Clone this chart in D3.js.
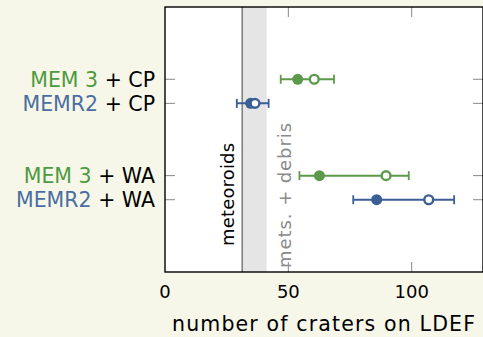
<!DOCTYPE html>
<html>
<head>
<meta charset="utf-8">
<script src="https://cdn.jsdelivr.net/npm/d3@7"></script>
<style>
  html, body { margin: 0; padding: 0; background: #f7f7e9; }
  svg { display: block; }
  text { font-family: "DejaVu Sans", sans-serif; }
</style>
</head>
<body>
<svg id="chart" width="483" height="337"></svg>
<script>
// Crater counts on LDEF for two meteoroid models and two surfaces
const models   = ["MEM 3", "MEMR2", "MEM 3", "MEMR2"];
const surfaces = ["CP", "CP", "WA", "WA"];
const rows     = [3, 4, 7, 8];              // vertical slot of each entry
const filled   = [53.8, 34.7, 62.6, 85.8];  // filled marker
const hollow   = [60.5, 36.5, 89.6, 106.9]; // open marker
const errLow   = [46.9, 29.1, 54.5, 76.3];
const errHigh  = [68.5, 42.0, 98.8, 117.2];
const xTicks   = [0, 50, 100];
const meteoroidsOnly = 31.3;
const metsPlusDebris = 41.2;

const colorOf = m => m === "MEM 3" ? "#5b994b" : "#3b5e96";
const textColorOf = m => m === "MEM 3" ? "#4f9a40" : "#4a6ea2";

const svg = d3.select("#chart");
const L = 165, R = 483, T = 7, B = 272;
const x = d3.scaleLinear().domain([0, 128.9]).range([L, R]);
const y = d3.scaleLinear().domain([0, 11]).range([T, B]);

// plot area
svg.append("rect").attr("x", L).attr("y", T).attr("width", R - L).attr("height", B - T)
  .attr("fill", "#ffffff");

// band between meteoroid-only and meteoroid+debris levels
svg.append("rect")
  .attr("x", x(meteoroidsOnly)).attr("y", T)
  .attr("width", x(metsPlusDebris) - x(meteoroidsOnly)).attr("height", B - T)
  .attr("fill", "#e5e5e5");
svg.append("line")
  .attr("x1", x(meteoroidsOnly)).attr("x2", x(meteoroidsOnly))
  .attr("y1", T).attr("y2", B)
  .attr("stroke", "#808080").attr("stroke-width", 1.6);

svg.append("text")
  .attr("transform", `translate(${x(meteoroidsOnly) - 8},${y(7.78)}) rotate(-90)`)
  .attr("text-anchor", "middle")
  .attr("font-size", 18)
  .attr("textLength", 103)
  .attr("lengthAdjust", "spacing")
  .attr("fill", "#000")
  .text("meteoroids");
svg.append("text")
  .attr("transform", `translate(${x(metsPlusDebris) + 24},${y(7.82)}) rotate(-90)`)
  .attr("text-anchor", "middle")
  .attr("font-size", 18)
  .attr("textLength", 145)
  .attr("lengthAdjust", "spacing")
  .attr("fill", "#8a8a8a")
  .text("mets. + debris");

// axes ticks (inward, on all four sides)
const tickLen = 10;
const axisG = svg.append("g").attr("stroke", "#888").attr("stroke-width", 1);
xTicks.filter(v => v > 0).forEach(v => {
  axisG.append("line").attr("x1", x(v)).attr("x2", x(v)).attr("y1", B).attr("y2", B - tickLen);
  axisG.append("line").attr("x1", x(v)).attr("x2", x(v)).attr("y1", T).attr("y2", T + tickLen);
});
rows.forEach(r => {
  axisG.append("line").attr("x1", L).attr("x2", L + tickLen).attr("y1", y(r)).attr("y2", y(r));
  axisG.append("line").attr("x1", R).attr("x2", R - tickLen).attr("y1", y(r)).attr("y2", y(r));
});

// error bars and markers
const idx = d3.range(models.length);
const g = svg.append("g");
idx.forEach(i => {
  const c = colorOf(models[i]);
  const yy = y(rows[i]);
  g.append("line").attr("x1", x(errLow[i])).attr("x2", x(errHigh[i]))
    .attr("y1", yy).attr("y2", yy).attr("stroke", c).attr("stroke-width", 2);
  [errLow[i], errHigh[i]].forEach(v => {
    g.append("line").attr("x1", x(v)).attr("x2", x(v))
      .attr("y1", yy - 4.5).attr("y2", yy + 4.5).attr("stroke", c).attr("stroke-width", 1.8);
  });
  g.append("circle").attr("cx", x(filled[i])).attr("cy", yy).attr("r", 5.5).attr("fill", c);
  g.append("circle").attr("cx", x(hollow[i])).attr("cy", yy).attr("r", 4.4)
    .attr("fill", "#fff").attr("stroke", c).attr("stroke-width", 2.4);
});

// frame
svg.append("rect").attr("x", L).attr("y", T).attr("width", R - L).attr("height", B - T)
  .attr("fill", "none").attr("stroke", "#000").attr("stroke-width", 1.4);

// row labels
idx.forEach(i => {
  const t = svg.append("text")
    .attr("x", L - 10).attr("y", y(rows[i]))
    .attr("dy", "0.36em")
    .attr("text-anchor", "end")
    .attr("font-size", 20.5);
  t.append("tspan").attr("fill", textColorOf(models[i])).text(models[i]);
  t.append("tspan").attr("fill", "#000").text(" + " + surfaces[i]);
});

// x tick labels
xTicks.forEach(v => {
  svg.append("text").attr("x", x(v)).attr("y", 298)
    .attr("text-anchor", "middle").attr("font-size", 18).attr("fill", "#000")
    .text(v);
});

// x axis title
svg.append("text").attr("x", (172 + 475) / 2).attr("y", 331)
  .attr("text-anchor", "middle").attr("font-size", 20.5)
  .attr("textLength", 303).attr("lengthAdjust", "spacing")
  .attr("fill", "#000")
  .text("number of craters on LDEF");
</script>
</body>
</html>
